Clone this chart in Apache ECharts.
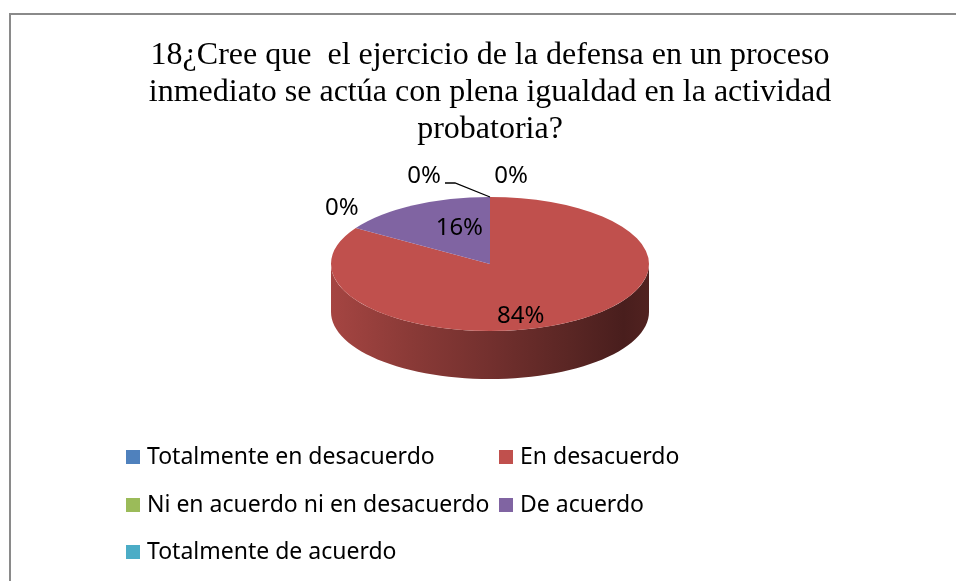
<!DOCTYPE html>
<html>
<head>
<meta charset="UTF-8">
<title></title>
<script src="https://cdn.jsdelivr.net/npm/echarts@6/dist/echarts.min.js"></script>
<style>
    body {margin:0; overflow:hidden; background:#fff;}
    #frame {position:absolute; left:9px; top:13px; width:1000px; height:600px; border-left:2px solid #8a8a8a; border-top:2px solid #8a8a8a;}
    #main {position:absolute; left:0; top:0; width:980px; height:581px;}
</style>
</head>
<body>
<div id="frame"></div>
<div id="main"></div>
<script>
    var categories = ['Totalmente en desacuerdo', 'En desacuerdo', 'Ni en acuerdo ni en desacuerdo', 'De acuerdo', 'Totalmente de acuerdo'];
    var values = [0, 84, 0, 16, 0];
    var colors = ['#4F81BD', '#C0504D', '#9BBB59', '#8064A2', '#4BACC6'];
    var titleText = '18¿Cree que  el ejercicio de la defensa en un proceso\ninmediato se actúa con plena igualdad en la actividad\nprobatoria?';

    // forma del pastel (elipse + grosor)
    var cx = 490, cy = 264, rx = 159, ry = 67, depth = 48;
    // etiquetas de 0%: desplazamiento desde el borde
    var zeroOffset = {0: [21, -21], 2: [-14, -20], 4: [-66, -21]};
    var leaderFor = {4: true};
    var legendPos = [[126, 445], [499, 445], [126, 493], [499, 493], [126, 540]];

    var total = values.reduce(function (a, b) { return a + b; }, 0);
    var starts = [], acc = 0;
    values.forEach(function (v) {
        starts.push(-Math.PI / 2 + acc / total * Math.PI * 2);
        acc += v;
    });

    function shade(hex, f) {
        var c = echarts.color.parse(hex);
        return 'rgb(' + Math.round(c[0] * f) + ',' + Math.round(c[1] * f) + ',' + Math.round(c[2] * f) + ')';
    }

    function renderSlice(params, api) {
        var i = params.seriesIndex;
        var v = api.value(0);
        var a0 = starts[i], a1 = a0 + v / total * Math.PI * 2;
        var color = colors[i];
        var children = [];

        // lado frontal (solo la mitad de abajo se ve)
        var s = Math.max(a0, 0), e = Math.min(a1, Math.PI);
        if (e > s) {
            var pts = [], n = 60, k, t;
            for (k = 0; k <= n; k++) {
                t = s + (e - s) * k / n;
                pts.push([cx + rx * Math.cos(t), cy + ry * Math.sin(t)]);
            }
            for (k = n; k >= 0; k--) {
                t = s + (e - s) * k / n;
                pts.push([cx + rx * Math.cos(t), cy + ry * Math.sin(t) + depth]);
            }
            children.push({
                type: 'polygon',
                shape: {points: pts},
                style: {
                    fill: {
                        type: 'linear', x: cx - rx, y: 0, x2: cx + rx, y2: 0, global: true,
                        colorStops: [
                            {offset: 0, color: shade(color, 0.86)},
                            {offset: 0.25, color: shade(color, 0.72)},
                            {offset: 0.5, color: shade(color, 0.6)},
                            {offset: 0.75, color: shade(color, 0.47)},
                            {offset: 0.92, color: shade(color, 0.38)},
                            {offset: 1, color: shade(color, 0.42)}
                        ]
                    }
                },
                z2: 1
            });
        }

        // cara superior
        if (v > 0) {
            children.push({
                type: 'sector',
                x: cx, y: cy, scaleY: ry / rx,
                shape: {cx: 0, cy: 0, r0: 0, r: rx, startAngle: a0, endAngle: a1, clockwise: true},
                style: {fill: color},
                z2: 10
            });
        }

        var txt = Math.round(v / total * 100) + '%';
        var lx, ly;
        if (v > 0) {
            var mid = (a0 + a1) / 2;
            lx = cx + 0.4 * rx * Math.cos(mid);
            ly = cy + 0.75 * ry * Math.sin(mid) + 8;
        } else {
            var rimX = cx + rx * Math.cos(a0), rimY = cy + ry * Math.sin(a0);
            var off = zeroOffset[i] || [0, -20];
            lx = rimX + off[0];
            ly = rimY + off[1];
            if (leaderFor[i]) {
                children.push({
                    type: 'polyline',
                    shape: {points: [[lx + 21, ly + 7], [lx + 31, ly + 7], [rimX, rimY]]},
                    style: {stroke: '#000', lineWidth: 1.3, fill: null},
                    z2: 20
                });
            }
        }
        children.push({
            type: 'text',
            x: lx, y: ly,
            style: {text: txt, fill: '#000', font: '24px "Noto Sans"', align: 'center', verticalAlign: 'middle'},
            z2: 30
        });

        return {type: 'group', children: children};
    }

    var myChart = echarts.init(document.getElementById('main'));

    var series = categories.map(function (name, i) {
        return {
            name: name,
            type: 'custom',
            coordinateSystem: 'none',
            renderItem: renderSlice,
            itemStyle: {color: colors[i]},
            data: [values[i]],
            animation: false,
            silent: true
        };
    });

    var legends = categories.map(function (name, i) {
        return {
            data: [name],
            left: legendPos[i][0],
            top: legendPos[i][1],
            padding: 0,
            icon: 'rect',
            itemWidth: 14,
            itemHeight: 14,
            selectedMode: false,
            textStyle: {fontFamily: 'Noto Sans', fontSize: 23, lineHeight: 24, color: '#000', padding: [0, 0, 0, 2]}
        };
    });

    var option = {
        animation: false,
        color: colors,
        title: {
            text: titleText,
            left: 'center',
            top: 37,
            padding: 0,
            textStyle: {fontFamily: 'Liberation Serif', fontSize: 32, fontWeight: 'normal', lineHeight: 37, color: '#000'}
        },
        legend: legends,
        series: series
    };

    myChart.setOption(option);
</script>
</body>
</html>
